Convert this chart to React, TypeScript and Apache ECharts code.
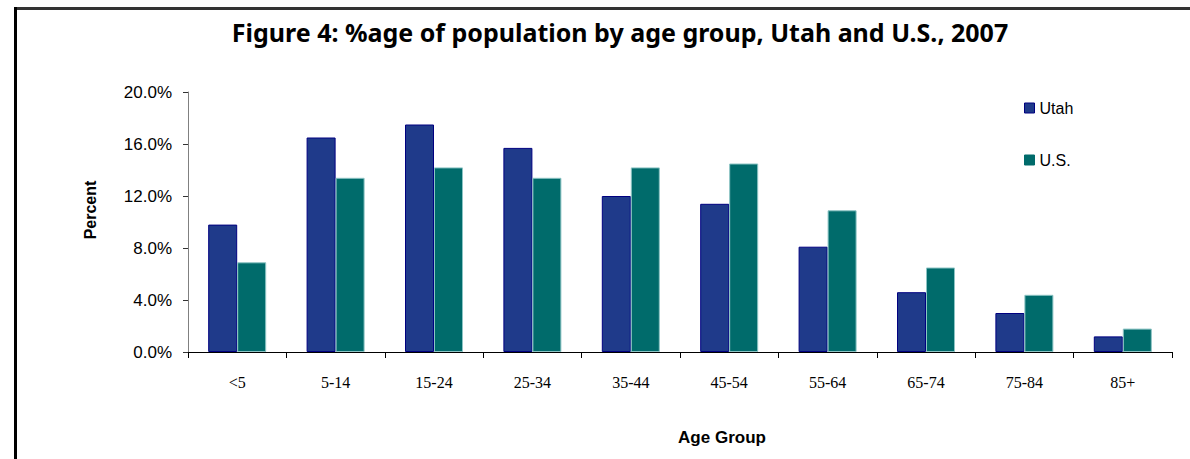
import React, { useEffect, useRef } from "react";
import * as echarts from "echarts";

const categories = ["<5", "5-14", "15-24", "25-34", "35-44", "45-54", "55-64", "65-74", "75-84", "85+"];
const utahValues = [9.8, 16.5, 17.5, 15.7, 12.0, 11.4, 8.1, 4.6, 3.0, 1.2];
const usValues = [6.9, 13.4, 14.2, 13.4, 14.2, 14.5, 10.9, 6.5, 4.4, 1.8];
const yTicks = { min: 0, max: 20, interval: 4 };

export default function App() {
  const ref = useRef<HTMLDivElement>(null);
  useEffect(() => {
    if (!ref.current) return;
    const chart = echarts.init(ref.current, null, { renderer: "svg" });
    chart.setOption({
      animation: false,
      backgroundColor: "#ffffff",
      title: {
        text: "Figure 4: %age of population by age group, Utah and U.S., 2007",
        left: 615,
        textAlign: "center",
        top: 14,
        textStyle: { fontFamily: "Noto Sans", fontWeight: "bold", fontSize: 25, color: "#000" },
      },
      legend: {
        orient: "vertical",
        left: 1019,
        top: 95,
        icon: "rect",
        itemWidth: 10,
        itemHeight: 10,
        itemGap: 36,
        textStyle: { fontFamily: "Liberation Sans", fontSize: 16, color: "#000", lineHeight: 16 },
        data: [
          { name: "Utah", itemStyle: { color: "#1F3A8A", borderColor: "#000080", borderWidth: 1 } },
          { name: "U.S.", itemStyle: { color: "#006B6B", borderColor: "#006B6B", borderWidth: 1 } },
        ],
      },
      grid: { left: 188, right: 18, top: 92, bottom: 107, containLabel: false },
      xAxis: {
        type: "category",
        data: categories,
        axisLine: { lineStyle: { color: "#000", width: 1 } },
        axisTick: { show: true, alignWithLabel: false, length: 6, lineStyle: { color: "#000" } },
        axisLabel: { fontFamily: "Liberation Serif", fontSize: 16, color: "#000", margin: 22 },
      },
      yAxis: {
        type: "value",
        min: yTicks.min,
        max: yTicks.max,
        interval: yTicks.interval,
        axisLine: { show: true, lineStyle: { color: "#808080", width: 1 } },
        axisTick: { show: true, length: 5, lineStyle: { color: "#333" } },
        splitLine: { show: false },
        axisLabel: {
          fontFamily: "Liberation Sans",
          fontSize: 17,
          color: "#000",
          margin: 16,
          formatter: (v: number) => v.toFixed(1) + "%",
        },
      },
      series: [
        {
          name: "Utah",
          type: "bar",
          data: utahValues,
          barWidth: 29,
          barGap: "0%",
          itemStyle: { color: "#1F3A8A", borderColor: "#000080", borderWidth: 1 },
        },
        {
          name: "U.S.",
          type: "bar",
          data: usValues,
          barWidth: 29,
          barGap: "0%",
          itemStyle: { color: "#006B6B", borderColor: "#8CC4C4", borderWidth: 1 },
        },
      ],
      graphic: [
        {
          type: "text",
          x: 90,
          y: 210,
          rotation: Math.PI / 2,
          style: {
            text: "Percent",
            fontFamily: "Liberation Sans",
            fontWeight: "bold",
            fontSize: 16,
            fill: "#000",
            textAlign: "center",
            textVerticalAlign: "middle",
          },
        },
        {
          type: "text",
          x: 722,
          y: 437,
          style: {
            text: "Age Group",
            fontFamily: "Liberation Sans",
            fontWeight: "bold",
            fontSize: 17,
            fill: "#000",
            textAlign: "center",
            textVerticalAlign: "middle",
          },
        },
        {
          type: "line",
          shape: { x1: 14, y1: 8.5, x2: 1190, y2: 8.5 },
          style: { stroke: "#333", lineWidth: 3 },
        },
        {
          type: "line",
          shape: { x1: 15.5, y1: 7, x2: 15.5, y2: 459 },
          style: { stroke: "#000", lineWidth: 3 },
        },
      ],
    });
    return () => chart.dispose();
  }, []);
  return <div ref={ref} style={{ width: 1190, height: 459, position: "absolute", left: 0, top: 0 }} />;
}
